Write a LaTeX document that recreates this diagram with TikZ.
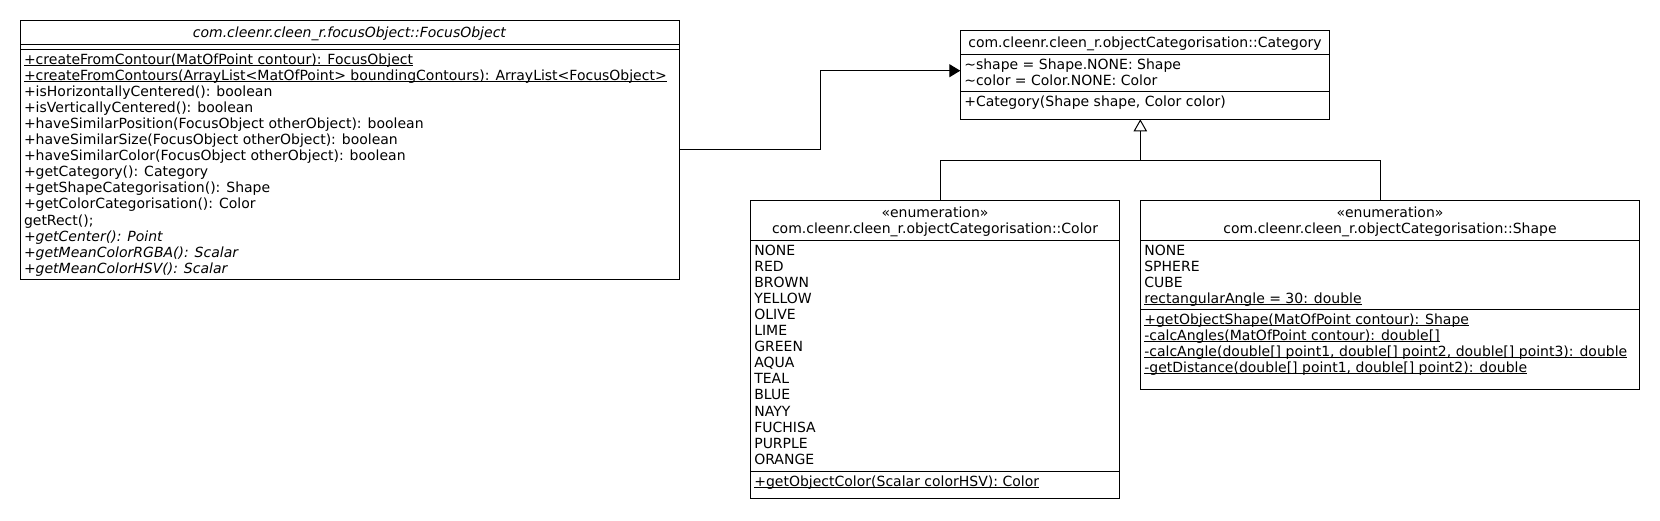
\documentclass[tikz,border=0pt]{standalone}
\usepackage{fontspec}
\setmainfont{DejaVu Sans}
\usetikzlibrary{arrows.meta}

\begin{document}
\begin{tikzpicture}[x=1pt, y=-1pt, font=\fontsize{14}{16}\selectfont,
    umlbox/.style={draw, line width=1pt, inner sep=0pt, outer sep=0pt, anchor=north west},
    row/.style={anchor=base west, inner sep=0pt},
    head/.style={anchor=base, inner sep=0pt},
    link/.style={line width=1pt}]

    % Parameters
    \def\rowh{16.1}   % height of one text row
    \def\pad{3.8}     % text inset from the left border

    % Underlined (static) member
    \newcommand{\ulstatic}[1]{\setbox0\hbox{#1}\rlap{\vrule width\wd0 height -0.9pt depth 1.7pt}\box0}

    % Rows of members: name, x, first baseline, entries
    \newcommand{\umlrows}[4]{
        \foreach \entry [count=\i] in {#4} {
            \node[row] (#1\i) at (#2, {#3+(\i-1)*\rowh}) {\entry};
        }
    }

    % Separator line across a box
    \newcommand{\umlsep}[2]{\draw[link] (#1.west |- 0,#2) -- (#1.east |- 0,#2);}

    \useasboundingbox (0,0) rectangle (1660,520);

    % FocusObject
    \node[umlbox, minimum width=659.3, minimum height=258.5] (fo) at (20,20.5) {};
    \node[head] (fo-title) at (349.6,37) {\textit{com.cleenr.cleen\_r.focusObject::FocusObject}};
    \umlsep{fo}{44.7}
    \umlsep{fo}{49.3}
    \umlrows{fo}{20+\pad}{64}{
        {\ulstatic{+createFromContour(MatOfPoint contour): FocusObject}},
        {\ulstatic{+createFromContours(ArrayList<MatOfPoint> boundingContours): ArrayList<FocusObject>}},
        {+isHorizontallyCentered(): boolean},
        {+isVerticallyCentered(): boolean},
        {+haveSimilarPosition(FocusObject otherObject): boolean},
        {+haveSimilarSize(FocusObject otherObject): boolean},
        {+haveSimilarColor(FocusObject otherObject): boolean},
        {+getCategory(): Category},
        {+getShapeCategorisation(): Shape},
        {+getColorCategorisation(): Color},
        {getRect();},
        {\textit{+getCenter(): Point}},
        {\textit{+getMeanColorRGBA(): Scalar}},
        {\textit{+getMeanColorHSV(): Scalar}}}

    % Category
    \node[umlbox, minimum width=369.4, minimum height=88.6] (cat) at (960.3,30.7) {};
    \node[head] (cat-title) at (1145,47) {com.cleenr.cleen\_r.objectCategorisation::Category};
    \umlsep{cat}{54.3}
    \umlrows{cat-a}{960.3+\pad}{69}{
        {\textasciitilde shape = Shape.NONE: Shape},
        {\textasciitilde color = Color.NONE: Color}}
    \umlsep{cat}{91.7}
    \umlrows{cat-m}{960.3+\pad}{106.4}{{+Category(Shape shape, Color color)}}

    % Color enumeration
    \node[umlbox, minimum width=369.4, minimum height=298.4] (col) at (750.3,200.3) {};
    \node[head] (col-st) at (935,217.5) {«enumeration»};
    \node[head] (col-title) at (935,233) {com.cleenr.cleen\_r.objectCategorisation::Color};
    \umlsep{col}{240}
    \umlrows{col-a}{750.3+\pad}{255}{NONE, RED, BROWN, YELLOW, OLIVE, LIME, GREEN,
        AQUA, TEAL, BLUE, NAYY, FUCHISA, PURPLE, ORANGE}
    \umlsep{col}{471}
    \umlrows{col-m}{750.3+\pad}{486}{{\ulstatic{+getObjectColor(Scalar colorHSV): Color}}}

    % Shape enumeration
    \node[umlbox, minimum width=499.4, minimum height=189] (shp) at (1140.3,200.3) {};
    \node[head] (shp-st) at (1390,217.5) {«enumeration»};
    \node[head] (shp-title) at (1390,233) {com.cleenr.cleen\_r.objectCategorisation::Shape};
    \umlsep{shp}{240}
    \umlrows{shp-a}{1140.3+\pad}{255}{NONE, SPHERE, CUBE,
        {\ulstatic{rectangularAngle = 30: double}}}
    \umlsep{shp}{309.3}
    \umlrows{shp-m}{1140.3+\pad}{324}{
        {\ulstatic{+getObjectShape(MatOfPoint contour): Shape}},
        {\ulstatic{-calcAngles(MatOfPoint contour): double[]}},
        {\ulstatic{-calcAngle(double[] point1, double[] point2, double[] point3): double}},
        {\ulstatic{-getDistance(double[] point1, double[] point2): double}}}

    % Association FocusObject -> Category
    \coordinate (bend) at (820.3,70.7);
    \draw[link, -{Triangle[length=11pt, width=13pt]}] (fo.east) -| (bend) -- (bend -| cat.west);

    % Generalisation of the enumerations
    \coordinate (split) at (1140.3,160.3);
    \draw[link, -{Triangle[open, length=12pt, width=13.4pt]}] (split) -- (split |- cat.south);
    \draw[link] ([xshift=5]col.north) |- (split) -| ([xshift=-9.7]shp.north);

\end{tikzpicture}
\end{document}
